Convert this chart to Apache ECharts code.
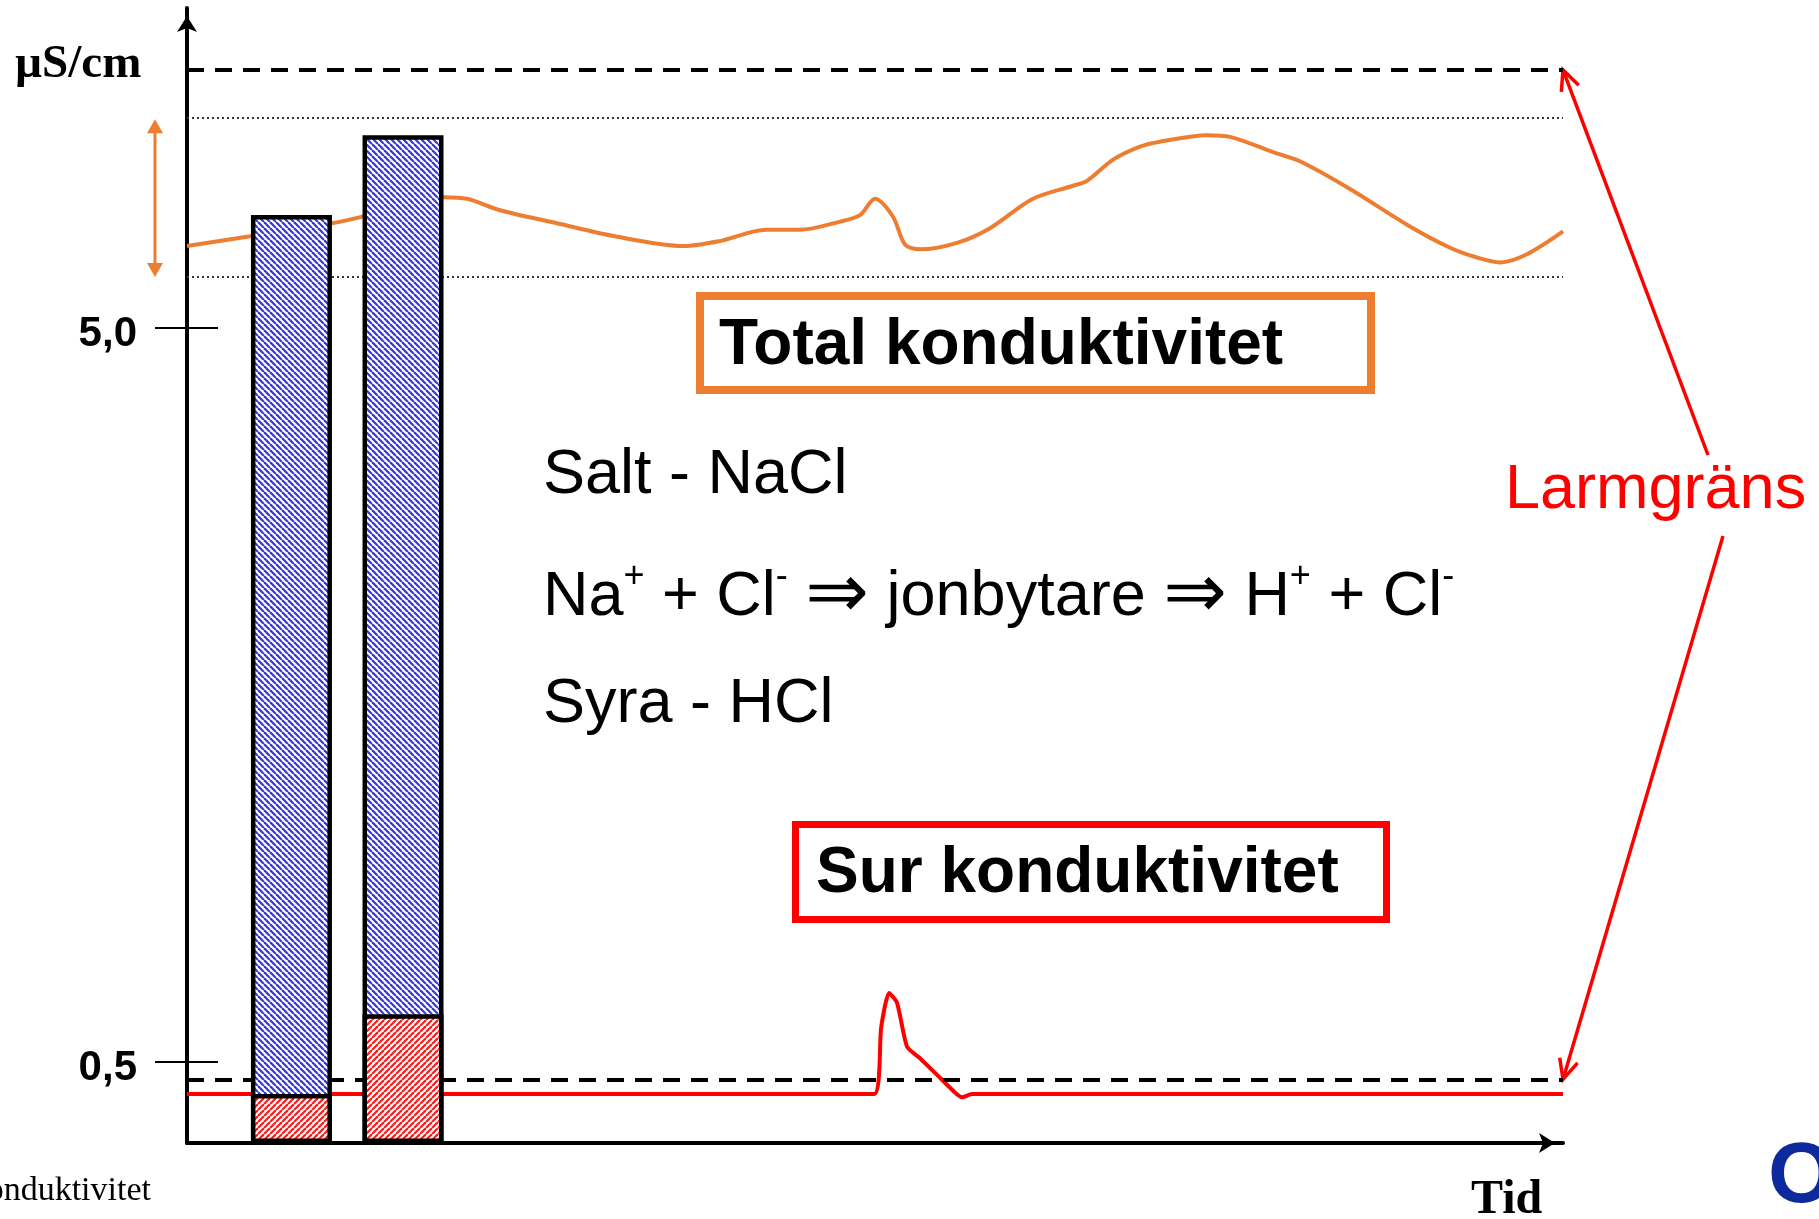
<!DOCTYPE html>
<html><head><meta charset="utf-8">
<script src="https://cdn.jsdelivr.net/npm/echarts@6/dist/echarts.min.js"></script>
<style>html,body{margin:0;padding:0;background:#fff}#c{width:1819px;height:1219px}</style>
</head><body><div id="c"></div>
<script>
// ---- data ----
const timeMax = 100;
const yMax = 6.96;
const yTickValues = [0.5, 5.0];
const yTickLabels = ['0,5', '5,0'];
const barTimes = [7.59, 15.70];
const barTotal = [5.69, 6.18];
const barAcid = [0.30, 0.79];
const alarmHigh = 6.58;
const alarmLow = 0.39;
const bandHigh = 6.29;
const bandLow = 5.31;
const totalTimes = [0, 4.58, 10.54, 12.72, 18.68, 20.35, 22.75, 26.89, 31.10, 36.12, 38.66, 42.08, 44.55, 47.46, 48.91, 50.0, 51.31, 52.18, 53.27, 55.96, 58.36, 61.48, 64.39, 65.41, 67.30, 69.26, 70.71, 74.13, 75.80, 79.14, 80.89, 84.52, 88.88, 91.79, 93.75, 95.42, 97.38, 100];
const totalValues = [5.50, 5.56, 5.64, 5.68, 5.80, 5.79, 5.72, 5.64, 5.56, 5.50, 5.53, 5.60, 5.60, 5.65, 5.69, 5.79, 5.68, 5.51, 5.48, 5.52, 5.61, 5.79, 5.87, 5.90, 6.03, 6.11, 6.14, 6.18, 6.17, 6.07, 6.02, 5.85, 5.62, 5.49, 5.43, 5.40, 5.45, 5.59];
const acidTimes = [0, 49.93, 50.45, 51.02, 51.6, 52.33, 53.27, 54.72, 55.81, 56.32, 57.05, 100];
const acidValues = [0.30, 0.30, 0.71, 0.92, 0.86, 0.59, 0.52, 0.40, 0.31, 0.28, 0.30, 0.30];
const texts = {
  total: 'Total konduktivitet', acid: 'Sur konduktivitet', salt: 'Salt - NaCl',
  acidName: 'Syra - HCl', alarm: 'Larmgräns', unit: 'µS/cm', time: 'Tid', footer: 'Konduktivitet'
};

function hatch(color, dir) {
  const c = document.createElement('canvas'); c.width = c.height = 6;
  const g = c.getContext('2d'); g.fillStyle = '#fff'; g.fillRect(0, 0, 6, 6);
  g.strokeStyle = color; g.lineWidth = 2.2;
  for (let k = -12; k <= 12; k += 6) {
    g.beginPath();
    if (dir > 0) { g.moveTo(k, 0); g.lineTo(k + 6, 6); } else { g.moveTo(k, 6); g.lineTo(k + 6, 0); }
    g.stroke();
  }
  return c;
}
const zip = (a, b) => a.map((x, i) => [x, b[i]]);

const chart = echarts.init(document.getElementById('c'), null, {renderer: 'canvas'});
const arrowAxisLine = {show: true, symbol: ['none', 'arrow'], symbolSize: [15, 16], symbolOffset: [0, -8], lineStyle: {color: '#000', width: 4}};
const tickLabel = v => { const i = yTickValues.findIndex(x => Math.abs(x - v) < 1e-6); return i >= 0 ? '{t|' + yTickLabels[i] + '}' : ''; };

chart.setOption({
  animation: false,
  backgroundColor: '#fff',
  grid: {left: 187, right: 256, top: 8, bottom: 76, containLabel: false},
  xAxis: {type: 'value', min: 0, max: timeMax, axisLine: arrowAxisLine, axisTick: {show: false}, axisLabel: {show: false}, splitLine: {show: false}},
  yAxis: [
    {type: 'value', min: 0, max: yMax, axisLine: arrowAxisLine,
     axisTick: {show: true, customValues: yTickValues, length: 32, inside: false, lineStyle: {color: '#000', width: 2}},
     axisLabel: {show: true, customValues: yTickValues, formatter: tickLabel, margin: 50,
       rich: {t: {fontSize: 42, fontWeight: 'bold', fontFamily: 'Liberation Sans, Arial', color: '#000', padding: [14, 0, 0, 0]}}},
     splitLine: {show: false}},
    {type: 'value', min: 0, max: yMax, position: 'left', axisLine: {show: false},
     axisTick: {show: true, customValues: yTickValues, length: 31, inside: true, lineStyle: {color: '#000', width: 2}},
     axisLabel: {show: false}, splitLine: {show: false}}
  ],
  series: [
    {type: 'line', name: 'total', data: zip(totalTimes, totalValues), smooth: 0.3, showSymbol: false, z: 2,
     lineStyle: {color: '#ED7D31', width: 4},
     markLine: {silent: true, symbol: ['none', 'none'], label: {show: false}, animation: false,
       data: [
         {yAxis: alarmHigh, lineStyle: {color: '#000', width: 4, type: [17, 11]}},
         {yAxis: alarmLow, lineStyle: {color: '#000', width: 4, type: [17, 11]}},
         {yAxis: bandHigh, lineStyle: {color: '#333', width: 2, type: [2, 3]}},
         {yAxis: bandLow, lineStyle: {color: '#333', width: 2, type: [2, 3]}}
       ]}},
    {type: 'line', name: 'acid', data: zip(acidTimes, acidValues), smooth: 0.2, showSymbol: false, z: 2,
     lineStyle: {color: '#FF0000', width: 4}},
    {type: 'bar', name: 'totalBar', data: zip(barTimes, barTotal), barWidth: 81, z: 5,
     itemStyle: {color: {image: hatch('#3636d8', 1), repeat: 'repeat'}, borderColor: '#000', borderWidth: 4.5}},
    {type: 'bar', name: 'acidBar', data: zip(barTimes, barAcid), barWidth: 81, barGap: '-100%', z: 6,
     itemStyle: {color: {image: hatch('#ff1a1a', -1), repeat: 'repeat'}, borderColor: '#000', borderWidth: 4.5}}
  ]
});

// ---- annotations positioned through the chart's scales ----
const px = (t, v) => chart.convertToPixel({gridIndex: 0}, [t, v]);
const axisX = px(0, 0)[0];
const yHi = px(0, bandHigh)[1], yLo = px(0, bandLow)[1];
const ax = axisX - 32;
const tipHi = px(timeMax, alarmHigh), tipLo = px(timeMax, alarmLow);
const tailHi = [1708, 455], tailLo = [1723, 536];
function arms(tip, tail, len, ang) {
  const a = Math.atan2(tail[1] - tip[1], tail[0] - tip[0]);
  const r = ang * Math.PI / 180;
  return [[tip[0] + len * Math.cos(a + r), tip[1] + len * Math.sin(a + r)], tip, [tip[0] + len * Math.cos(a - r), tip[1] + len * Math.sin(a - r)]];
}
const sansMid = (base, size) => base - 0.3465 * size;
const serifMid = (base, size) => base - 0.3375 * size;
const orange = '#ED7D31';
const g = [
  // orange double arrow
  {type: 'line', shape: {x1: ax, y1: yHi + 12, x2: ax, y2: yLo - 12}, style: {stroke: orange, lineWidth: 3}},
  {type: 'polygon', shape: {points: [[ax, yHi + 2], [ax - 8, yHi + 16], [ax + 8, yHi + 16]]}, style: {fill: orange}},
  {type: 'polygon', shape: {points: [[ax, yLo], [ax - 8, yLo - 14], [ax + 8, yLo - 14]]}, style: {fill: orange}},
  // red alarm arrows
  {type: 'line', shape: {x1: tailHi[0], y1: tailHi[1], x2: tipHi[0], y2: tipHi[1]}, style: {stroke: '#f00', lineWidth: 3.5}},
  {type: 'polyline', shape: {points: arms(tipHi, tailHi, 22, 25)}, style: {stroke: '#f00', lineWidth: 3.5, fill: null}},
  {type: 'line', shape: {x1: tailLo[0], y1: tailLo[1], x2: tipLo[0], y2: tipLo[1]}, style: {stroke: '#f00', lineWidth: 3.5}},
  {type: 'polyline', shape: {points: arms(tipLo, tailLo, 22, 25)}, style: {stroke: '#f00', lineWidth: 3.5, fill: null}},
  // boxes
  {type: 'rect', shape: {x: 700, y: 296, width: 671, height: 94}, style: {stroke: orange, lineWidth: 8, fill: '#fff'}, z: 8},
  {type: 'rect', shape: {x: 795.5, y: 824.5, width: 591, height: 95}, style: {stroke: '#f00', lineWidth: 7, fill: '#fff'}, z: 8},
  // texts
  {type: 'text', x: 719, y: sansMid(369, 64), z: 10, style: {text: texts.total, font: 'bold 64px "Liberation Sans", Arial', fill: '#000', verticalAlign: 'middle'}},
  {type: 'text', x: 816, y: sansMid(897, 64), z: 10, style: {text: texts.acid, font: 'bold 64px "Liberation Sans", Arial', fill: '#000', verticalAlign: 'middle'}},
  {type: 'text', x: 543, y: sansMid(497, 63), z: 10, style: {text: texts.salt, font: '63px "Liberation Sans", Arial', fill: '#000', verticalAlign: 'middle'}},
  {type: 'text', x: 543, y: sansMid(611, 63) - 30, z: 10, style: {
    text: 'Na{sup|+} + Cl{supm|-} {arr|⇒} jonbytare {arr|⇒} H{sup|+} + Cl{supm|-}',
    font: '63px "Liberation Sans", Arial', fill: '#000', verticalAlign: 'top',
    rich: {sup: {fontSize: 36, fontFamily: 'Liberation Sans', verticalAlign: 'top', lineHeight: 58, fill: '#000'},
           supm: {fontSize: 36, fontFamily: 'Liberation Sans', verticalAlign: 'top', lineHeight: 24, fill: '#000'},
           arr: {fontSize: 76, fontFamily: 'DejaVu Sans', fill: '#000'}}}},
  {type: 'text', x: 543, y: sansMid(726, 63), z: 10, style: {text: texts.acidName, font: '63px "Liberation Sans", Arial', fill: '#000', verticalAlign: 'middle'}},
  {type: 'text', x: 1505, y: sansMid(512, 63), z: 10, style: {text: texts.alarm, font: '63px "Liberation Sans", Arial', fill: '#f00', verticalAlign: 'middle'}},
  {type: 'text', x: 15, y: serifMid(81, 47), z: 10, style: {text: texts.unit, font: 'bold 47px "Liberation Serif", "Times New Roman"', fill: '#000', verticalAlign: 'middle'}},
  {type: 'text', x: 1471, y: serifMid(1217, 48), z: 10, style: {text: texts.time, font: 'bold 48px "Liberation Serif", "Times New Roman"', fill: '#000', verticalAlign: 'middle'}},
  {type: 'text', x: 151, y: serifMid(1203, 34), z: 10, style: {text: texts.footer, font: '34px "Liberation Serif", "Times New Roman"', fill: '#000', align: 'right', verticalAlign: 'middle'}},
  {type: 'text', x: 1768, y: sansMid(1208, 86), z: 10, style: {text: 'O', font: 'bold 86px "Liberation Sans", Arial', fill: '#0c2a9c', verticalAlign: 'middle'}}
];
chart.setOption({graphic: g.map(e => Object.assign({silent: true}, e))});
</script></body></html>
